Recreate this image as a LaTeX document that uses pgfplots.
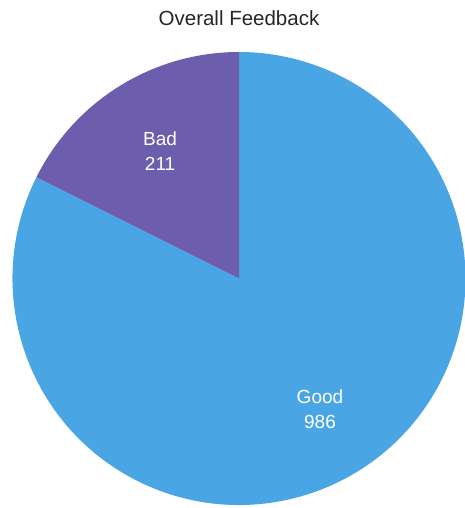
\documentclass[border=0pt]{standalone}
\usepackage{pgfplots}
\usepackage{pgfplotstable}
\pgfplotsset{compat=1.18}
\usetikzlibrary{calc}
\usepackage{fontspec}
\setmainfont{Liberation Sans}
\definecolor{goodblue}{RGB}{74,165,228}
\definecolor{badpurple}{RGB}{108,94,172}
\pgfplotstableread{
label value
Good 986
Bad 211
}\pietable
\pgfplotstablegetelem{0}{value}\of\pietable \let\vgood\pgfplotsretval
\pgfplotstablegetelem{1}{value}\of\pietable \let\vbad\pgfplotsretval
\pgfmathsetmacro\total{\vgood+\vbad}
\pgfmathsetmacro\frac{\vbad/\total}
\pgfmathsetmacro\abad{360*\frac}
\pgfmathsetmacro\aend{90+\abad}
\pgfmathsetmacro\midbad{90+\abad/2}
\pgfmathsetmacro\midgood{(\aend+450)/2}
\begin{document}
\begin{tikzpicture}
\begin{axis}[
  scale only axis, width=465pt, height=508pt,
  xmin=0, xmax=465, ymin=0, ymax=508,
  hide axis, clip=true,
]
\def\cx{239}\def\cy{229.5}\def\R{226.5pt}
\fill[goodblue] (axis cs:\cx,\cy) -- ++(\aend:\R) arc[start angle=\aend, end angle=450, radius=\R] -- cycle;
\fill[badpurple] (axis cs:\cx,\cy) -- ++(90:\R) arc[start angle=90, end angle=\aend, radius=\R] -- cycle;
\node[white, font=\fontsize{19}{25}\selectfont, align=center] at ($(axis cs:\cx,\cy)+(\midbad:150pt)$) {Bad\\\vbad};
\node[white, font=\fontsize{19}{25}\selectfont, align=center] at ($(axis cs:\cx,\cy)+(\midgood:154pt)$) {Good\\\vgood};
\node[black!85, font=\fontsize{20.5}{24}\selectfont] at (axis cs:239,490) {Overall Feedback};
\end{axis}
\pgfresetboundingbox
\path (current axis.south west) rectangle (current axis.north east);
\end{tikzpicture}
\end{document}
